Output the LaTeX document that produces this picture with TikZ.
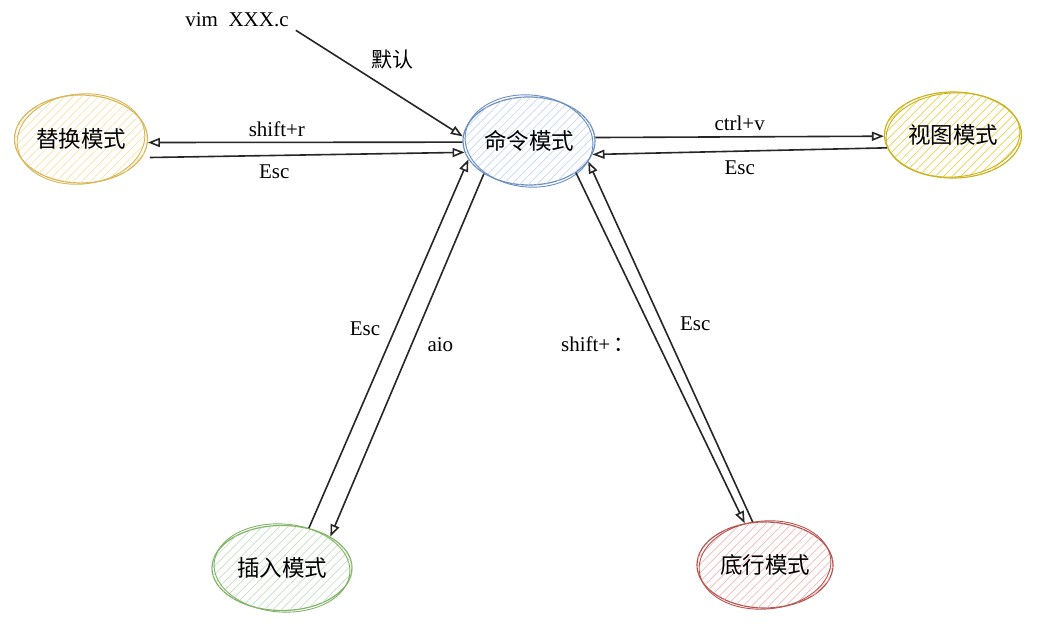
\documentclass[tikz,border=0pt]{standalone}
\usepackage{fontspec}
\setmainfont{Liberation Serif}
\newfontfamily\cjk{Noto Sans CJK SC}
\usetikzlibrary{shapes.geometric,arrows.meta,patterns.meta}

\definecolor{replace}{HTML}{D6B656}
\definecolor{replacefill}{HTML}{FBE3A6}
\definecolor{command}{HTML}{6C8EBF}
\definecolor{commandfill}{HTML}{C4D8F5}
\definecolor{visual}{HTML}{C9B31E}
\definecolor{visualfill}{HTML}{E8D44A}
\definecolor{insert}{HTML}{82B366}
\definecolor{insertfill}{HTML}{C3E0C0}
\definecolor{lastline}{HTML}{B85450}
\definecolor{lastlinefill}{HTML}{F4B8B5}

\begin{document}
\begin{tikzpicture}[x=1pt, y=-1pt,
    mode/.style={ellipse, draw, line width=1.2pt, fill=white,
      minimum width=133pt, minimum height=88pt, inner sep=0pt,
      font=\cjk\fontsize{22.5}{22.5}\selectfont,
      postaction={pattern={Lines[angle=45,distance=6pt,line width=0.7pt]}}},
    sketch/.style={line width=0.9pt},
    arr/.style={-{Triangle[open,length=12pt,width=9pt]}, line width=1.6pt, draw=black!85},
    lbl/.style={font=\fontsize{21}{21}\selectfont, inner sep=5pt}]
  \fill[white] (0,0) rectangle (1047,628);
  \useasboundingbox (0,0) rectangle (1047,628);

  \node[mode, draw=replace, pattern color=replacefill] (rep) at (81,139) {替换模式};
  \node[mode, draw=command, pattern color=commandfill, minimum width=132pt] (cmd) at (529,141) {命令模式};
  \node[mode, draw=visual, pattern color=visualfill, minimum width=137pt, minimum height=86pt] (vis) at (953,135) {视图模式};
  \node[mode, draw=insert, pattern color=insertfill, minimum width=140pt, minimum height=85pt] (ins) at (282,568) {插入模式};
  \node[mode, draw=lastline, pattern color=lastlinefill, minimum width=136pt, minimum height=86pt] (last) at (765,565) {底行模式};

  \draw[sketch, replace] (rep.center) ellipse [x radius=64, y radius=45, rotate=6];
  \draw[sketch, command] (cmd.center) ellipse [x radius=64, y radius=46, rotate=-5];
  \draw[sketch, visual] (vis.center) ellipse [x radius=67, y radius=42, rotate=4];
  \draw[sketch, insert] (ins.center) ellipse [x radius=68, y radius=44, rotate=-4];
  \draw[sketch, lastline] (last.center) ellipse [x radius=66, y radius=44, rotate=5];

  \node[lbl] (vim) at (237,20) {vim\ \ XXX.c};
  \draw[arr] ([xshift=2pt,yshift=2pt]vim.south east) -- node[lbl, pos=0.42, above right, font=\cjk\fontsize{21}{21}\selectfont] (dflt) {默认} (cmd.176);

  \draw[arr] (cmd.181) -- node[lbl, above, pos=0.59] (shiftr) {shift+r} (rep.357);
  \draw[arr, shorten <=8pt] (rep.343) -- node[lbl, below=3pt, pos=0.41] (escrep) {Esc} (cmd.190);

  \draw[arr] (cmd.3) -- node[lbl, above] (ctrlv) {ctrl+v} (vis.181);
  \draw[arr] (vis.191) -- node[lbl, below=4pt] (escvis) {Esc} (cmd.348);

  \draw[arr] (ins.56) -- node[lbl, left=9pt, pos=0.54] (escins) {Esc} (cmd.197);
  \draw[arr] (cmd.216) -- node[lbl, right=10pt, pos=0.47] (aio) {aio} (ins.33);

  \draw[arr] (cmd.326) -- node[lbl, left=18pt, pos=0.49] (shiftc) {shift+\,\cjk ：} (last.116);
  \draw[arr] (last.106) -- node[lbl, right=12pt, pos=0.55] (esclast) {Esc} (cmd.341);
\end{tikzpicture}
\end{document}
